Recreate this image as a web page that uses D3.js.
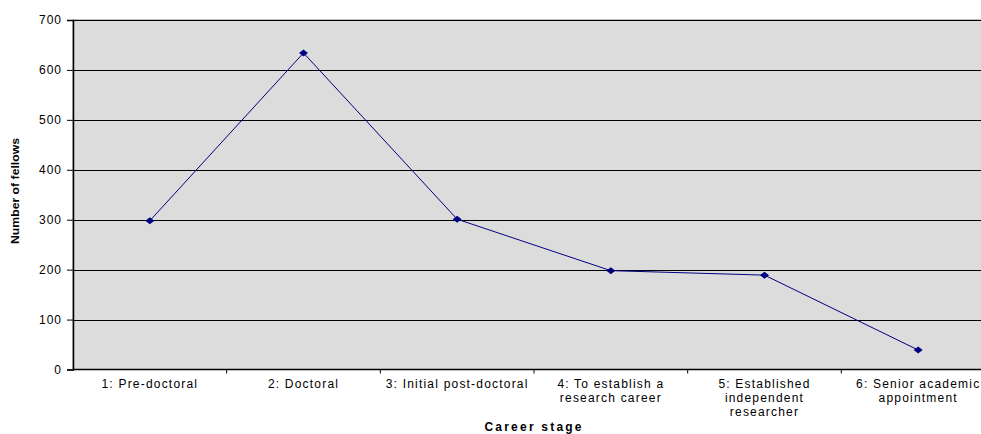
<!DOCTYPE html>
<html><head><meta charset="utf-8">
<script src="https://cdn.jsdelivr.net/npm/d3@7"></script>
<style>body{margin:0;background:#fff;overflow:hidden}svg{display:block;font-family:"Liberation Sans",Arial,sans-serif}</style>
</head><body>
<svg id="c" width="981" height="434"></svg>
<script>
const categories = ["1: Pre-doctoral","2: Doctoral","3: Initial post-doctoral","4: To establish a research career","5: Established independent researcher","6: Senior academic appointment"];
const categoryLines = [["1: Pre-doctoral"],["2: Doctoral"],["3: Initial post-doctoral"],["4: To establish a","research career"],["5: Established","independent","researcher"],["6: Senior academic","appointment"]];
const fellows = [298, 634, 301, 198, 189, 39];
const yTicks = [0,100,200,300,400,500,600,700];

(function(){
const svg = d3.select("#c");
const pLeft = 73, pRight = 995, pTop = 20, pBottom = 369.5;
const x = d3.scaleBand().domain(categories).range([pLeft, pRight]).padding(0);
const y = d3.scaleLinear().domain([0,700]).range([pBottom, pTop]);

svg.append("rect").attr("x",pLeft).attr("y",pTop).attr("width",pRight-pLeft).attr("height",pBottom-pTop)
  .attr("fill","#dcdcdc").attr("stroke","#808080").attr("stroke-width",1);

svg.append("g").selectAll("line").data(yTicks.filter(d=>d>0)).join("line")
  .attr("x1",pLeft).attr("x2",pRight).attr("y1",d=>Math.round(y(d))+0.5).attr("y2",d=>Math.round(y(d))+0.5)
  .attr("stroke","#000").attr("stroke-width",1);

const ya = svg.append("g").attr("transform",`translate(${pLeft},0)`)
  .call(d3.axisLeft(y).tickValues(yTicks).tickSize(6).tickPadding(5).tickFormat(d3.format("d")));
ya.select(".domain").attr("stroke","#000").attr("stroke-width",1.5);
ya.selectAll(".tick line").attr("stroke","#000");
ya.selectAll(".tick text").attr("font-size","12px").attr("letter-spacing","1px").attr("fill","#000")
  .attr("font-family","Liberation Sans, Arial, sans-serif").attr("x",-11);

const xa = svg.append("g").attr("transform",`translate(0,${pBottom})`);
xa.append("line").attr("x1",pLeft).attr("x2",pRight).attr("y1",0).attr("y2",0).attr("stroke","#000").attr("stroke-width",1.5);
xa.selectAll("line.t").data(categories.slice(1)).join("line").attr("class","t")
  .attr("x1",d=>x(d)).attr("x2",d=>x(d)).attr("y1",0).attr("y2",4).attr("stroke","#000");
const lab = xa.selectAll("text").data(categories).join("text")
  .attr("text-anchor","middle").attr("font-size","12px").attr("letter-spacing","1.2px").attr("fill","#000")
  .attr("transform",d=>`translate(${x(d)+x.bandwidth()/2},0)`);
lab.each(function(d,i){
  d3.select(this).selectAll("tspan").data(categoryLines[i]).join("tspan")
    .attr("x",0).attr("y",(t,j)=>18+j*14).text(t=>t);
});

const diamond = {draw(ctx){ctx.moveTo(-4.5,0);ctx.lineTo(0,-3.5);ctx.lineTo(4.5,0);ctx.lineTo(0,3.5);ctx.closePath();}};
const pts = categories.map((c,i)=>[x(c)+x.bandwidth()/2, y(fellows[i])]);
svg.append("path").attr("d",d3.line()(pts)).attr("fill","none").attr("stroke","#000080").attr("stroke-width",1);
svg.append("g").selectAll("path").data(pts).join("path")
  .attr("d",d3.symbol(diamond)())
  .attr("transform",d=>`translate(${d[0]},${d[1]})`).attr("fill","#000080");

svg.append("text").attr("x",533).attr("y",430.5).attr("text-anchor","middle")
  .attr("font-size","12px").attr("font-weight","bold").attr("textLength",97).attr("lengthAdjust","spacing").text("Career stage");
svg.append("text").attr("transform","translate(19,191) rotate(-90)").attr("text-anchor","middle")
  .attr("font-size","11px").attr("font-weight","bold").attr("textLength",106).attr("lengthAdjust","spacingAndGlyphs").text("Number of fellows");
})();
</script>
</body></html>
